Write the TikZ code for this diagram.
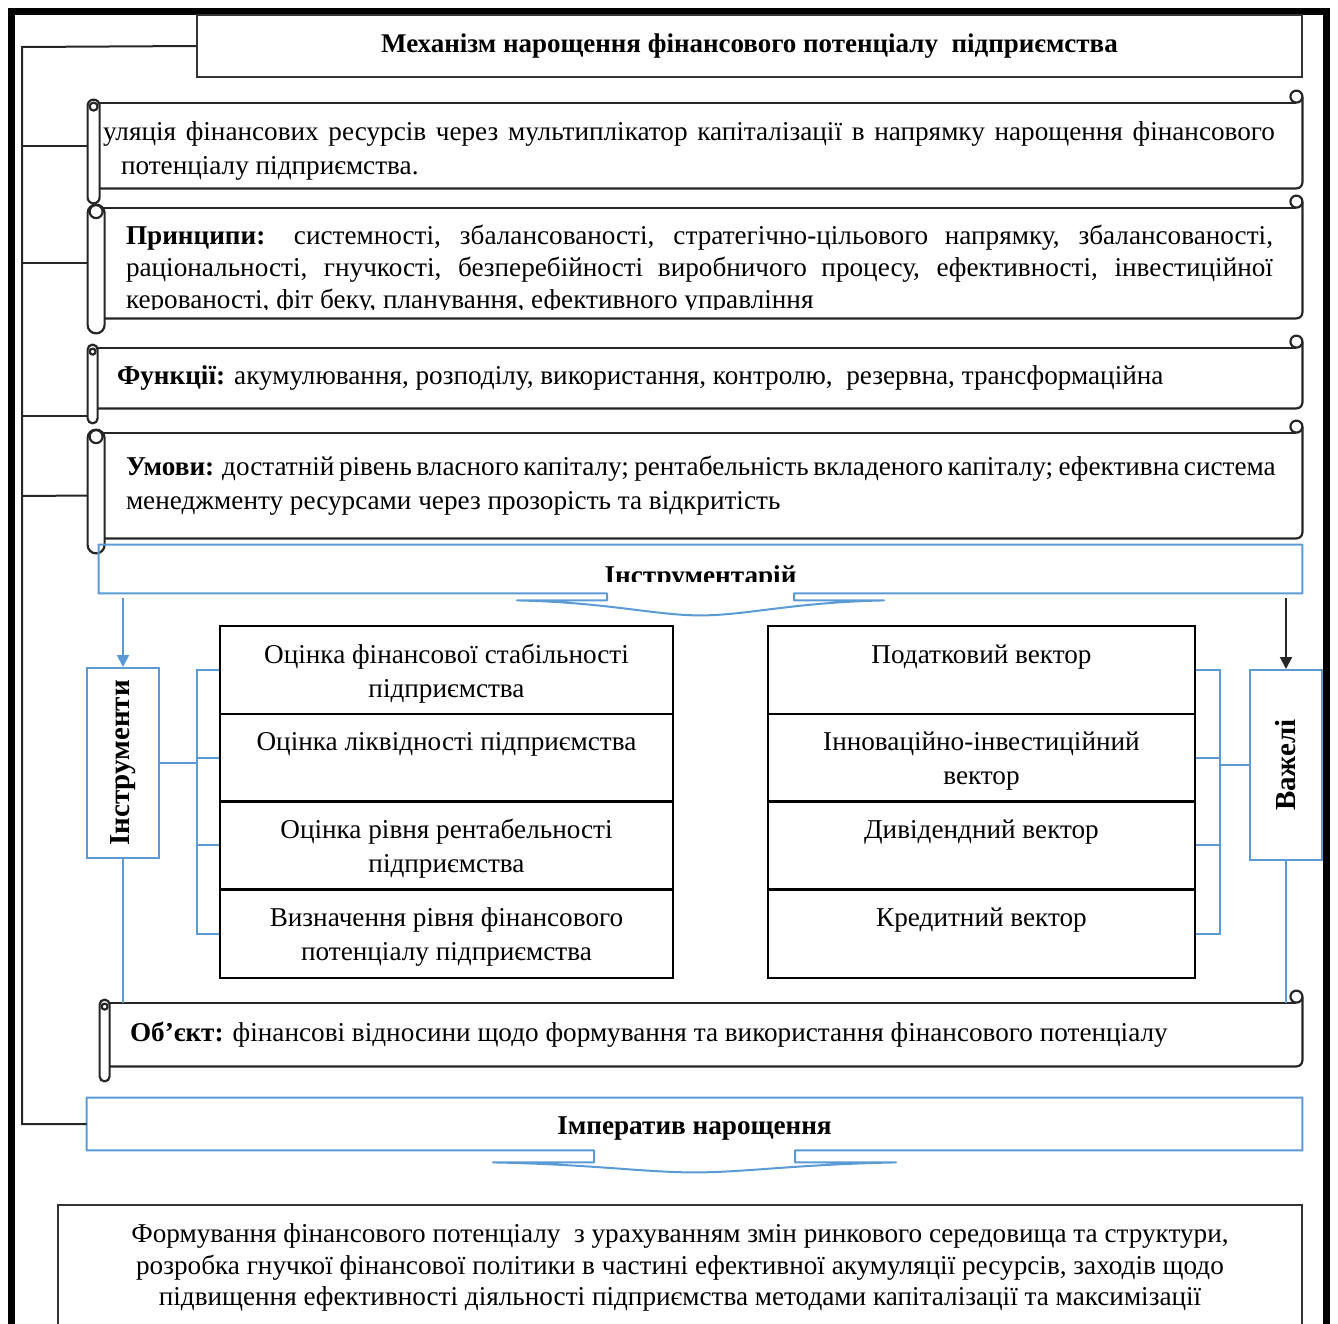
\documentclass[tikz,border=0pt]{standalone}
\usepackage{fontspec}
\setmainfont{Liberation Serif}
\usepackage{graphicx}
\usetikzlibrary{arrows.meta}
\definecolor{wordblue}{RGB}{91,155,213}

% scroll frame round a node: #1 node, #2 tube width (px)
\newcommand\scrolldeco[2]{%
  \draw[scrl] ([shift={(#2/2,0)}]#1.north west) -- ([shift={(-6,0)}]#1.north east);
  \draw[scrl] ([shift={(-6,-6)}]#1.north east) circle[radius=3pt];
  \draw[scrl, rounded corners=3pt] ([shift={(0,-6)}]#1.north east) -- (#1.south east) -- ([shift={(#2/2,0)}]#1.south west);
  \draw[scrl, fill=white, rounded corners={#2*0.25pt}] ([shift={(0,-3)}]#1.north west) rectangle ([shift={(#2,15)}]#1.south west);
  \draw[scrl] ([shift={(#2/2,4)}]#1.north west) circle[radius={(#2/2-2)*0.5pt}];
}
% ribbon frame: #1 node, #2 step, #3 end, #4 step depth
\newcommand\ribdeco[4]{%
  \draw[rib] (#1.south west) -- ([shift={(-#2,0)}]#1.south) -- ([shift={(-#2,#4)}]#1.south)
    -- ([shift={(-#3,#4)}]#1.south)
    .. controls ([shift={(-#3/2,#4+2)}]#1.south) and ([shift={(-#3/4,22)}]#1.south) .. ([shift={(0,22)}]#1.south)
    .. controls ([shift={(#3/4,22)}]#1.south) and ([shift={(#3/2,#4+2)}]#1.south) .. ([shift={(#3,#4)}]#1.south)
    -- ([shift={(#2,#4)}]#1.south) -- ([shift={(#2,0)}]#1.south)
    -- (#1.south east) -- (#1.north east) -- (#1.north west) -- cycle;
}
\newcommand\celltxt[2]{\parbox[c][44pt][t]{#1}{\centering\rule{0pt}{18.5pt}#2}}
\newcommand\jline[2]{\makebox[#1][s]{#2}}

\begin{document}
\begin{tikzpicture}[x=0.5pt, y=-0.5pt, font=\fontsize{13.6}{17}\selectfont,
  >={Triangle[width=6pt,length=6pt]},
  box/.style={draw=black!80, line width=1pt, inner sep=0pt, align=flush center},
  scrollbox/.style={inner ysep=0pt, align=flush left, minimum width=607pt},
  scrl/.style={draw=black!85, line width=1.1pt, line join=round},
  cell/.style={draw, line width=1pt, inner sep=0pt, minimum height=44pt},
  rib/.style={draw=wordblue, line width=1pt, line join=round},
  sidebox/.style={draw=wordblue, line width=1pt, minimum width=36pt, minimum height=95pt, inner sep=0pt,
    font=\fontsize{14.5}{17}\selectfont\bfseries},
  link/.style={draw=black!85, line width=1pt},
  blink/.style={draw=wordblue, line width=1pt}]
\useasboundingbox (0,0) rectangle (1338,1323);
\clip (0,0) rectangle (1338,1323);
\draw[line width=3.5pt] (11.5,11.5) rectangle (1326.5,1327);

\node[box, minimum width=552.5pt, minimum height=31pt, font=\fontsize{13.5}{17}\selectfont\bfseries] (title) at (749.5,46)
  {Механізм нарощення фінансового потенціалу\ \ підприємства};

% scrolls
\node[scrollbox, minimum height=42.5pt, text width=592pt, inner xsep=7.5pt] (s1) at (695,145.5)
  {\rule{0pt}{14.5pt}\jline{586pt}{уляція фінансових ресурсів через мультиплікатор капіталізації в напрямку нарощення фінансового}\\
   \hspace*{9pt}потенціалу підприємства.};
\scrolldeco{s1}{12}
\begin{scope}
\clip (88,190) rectangle (1302,309);
\node[scrollbox, minimum height=55pt, text width=569pt, inner xsep=19pt, font=\fontsize{13.6}{16}\selectfont] (s2) at (695,263)
  {\rule{0pt}{16.4pt}\jline{573.5pt}{\textbf{Принципи:} системності, збалансованості, стратегічно-цільового напрямку, збалансованості,}\\
   \jline{573.5pt}{раціональності, гнучкості, безперебійності виробничого процесу, ефективності, інвестиційної}\\
   керованості, фіт беку, планування, ефективного управління};
\end{scope}
\scrolldeco{s2}{17}
\node[scrollbox, minimum height=30pt, text width=578pt, inner xsep=14.5pt] (s3) at (695,378)
  {\textbf{Функції:} акумулювання, розподілу, використання, контролю,\ \ резервна, трансформаційна};
\scrolldeco{s3}{10}
\node[scrollbox, minimum height=52.5pt, text width=569pt, inner xsep=19pt] (s4) at (695,485.5)
  {\jline{573.5pt}{\textbf{Умови:} достатній рівень власного капіталу; рентабельність вкладеного капіталу; ефективна система}\\
   менеджменту ресурсами через прозорість та відкритість};
\scrolldeco{s4}{17}

% instruments ribbon
\begin{scope}
\clip (99,545) rectangle (1302,581);
\node[inner sep=0pt, minimum width=601.5pt, minimum height=24pt] (rib1) at (700.5,569)
  {\raisebox{-7.5pt}[0pt][0pt]{\textbf{Інструментарій}}};
\end{scope}
\ribdeco{rib1}{93.5}{183.5}{7}

\node[sidebox] (tools) at (123,763) {\rotatebox{90}{Інструменти}};
\node[sidebox] (levers) at (1286,765) {\rotatebox{90}{Важелі}};

% left table
\node[cell, minimum width=226.5pt] (a1) at (446.5,670) {\celltxt{220pt}{Оцінка фінансової стабільності\\підприємства}};
\node[cell, minimum width=226.5pt] (a2) at (446.5,757.5) {\celltxt{220pt}{Оцінка ліквідності підприємства}};
\node[cell, minimum width=226.5pt] (a3) at (446.5,845) {\celltxt{220pt}{Оцінка рівня рентабельності\\підприємства}};
\node[cell, minimum width=226.5pt] (a4) at (446.5,933.5) {\celltxt{220pt}{Визначення рівня фінансового\\потенціалу підприємства}};
% right table
\node[cell, minimum width=213.5pt] (b1) at (981.5,670) {\celltxt{207pt}{Податковий вектор}};
\node[cell, minimum width=213.5pt] (b2) at (981.5,757.5) {\celltxt{207pt}{Інноваційно-інвестиційний\\вектор}};
\node[cell, minimum width=213.5pt] (b3) at (981.5,845) {\celltxt{207pt}{Дивідендний вектор}};
\node[cell, minimum width=213.5pt] (b4) at (981.5,933.5) {\celltxt{207pt}{Кредитний вектор}};

\node[scrollbox, minimum width=601pt, minimum height=31.5pt, text width=571pt, inner xsep=15pt] (s5) at (701,1034.5)
  {\textbf{Об’єкт:} фінансові відносини щодо формування та використання фінансового потенціалу};
\scrolldeco{s5}{10}

\node[inner sep=0pt, minimum width=607.5pt, minimum height=26pt] (imp) at (694.5,1124)
  {\raisebox{-5pt}[0pt][0pt]{\textbf{Імператив нарощення}}};
\ribdeco{imp}{100.5}{201.5}{12}

\node[box, minimum width=622pt, minimum height=62.5pt, text width=610pt, font=\fontsize{13.6}{15.75}\selectfont] (goal) at (680,1267.5)
  {Формування фінансового потенціалу\ \ з урахуванням змін ринкового середовища та структури,\\
   розробка гнучкої фінансової політики в частині ефективної акумуляції ресурсів, заходів щодо\\
   підвищення ефективності діяльності підприємства методами капіталізації та максимізації};

% left spine
\coordinate (spine) at (22,47);
\draw[link] (title.west) -- (spine) -- (spine |- imp.west) -- (imp.west);
\foreach \s in {s1,s2} {\draw[link] (spine |- \s.west) -- (\s.west);}
\draw[link] (spine |- 0,416) -- ([yshift=-19pt]s3.west);
\draw[link] (spine |- 0,496) -- ([yshift=-5pt]s4.west);

% arrows from the ribbon
\draw[blink, ->] (rib1.south -| tools.north) ++(0,5) -- (tools.north);
\draw[link, ->] (rib1.south -| levers.north) ++(0,5) -- (levers.north);
\draw[blink] (tools.south) -- (tools.south |- s5.north);
\draw[blink] (levers.south) -- (levers.south |- s5.north);

% brackets
\coordinate (lbus) at (197,763);
\coordinate (rbus) at (1220,765);
\draw[blink] (a1.west) -| (lbus) |- (a4.west);
\draw[blink] (tools.east) -- (tools.east -| lbus);
\foreach \c in {a2,a3} {\draw[blink] (lbus |- \c.west) -- (\c.west);}
\draw[blink] (b1.east) -| (rbus) |- (b4.east);
\draw[blink] (levers.west) -- (levers.west -| rbus);
\foreach \c in {b2,b3} {\draw[blink] (rbus |- \c.east) -- (\c.east);}
\end{tikzpicture}
\end{document}
